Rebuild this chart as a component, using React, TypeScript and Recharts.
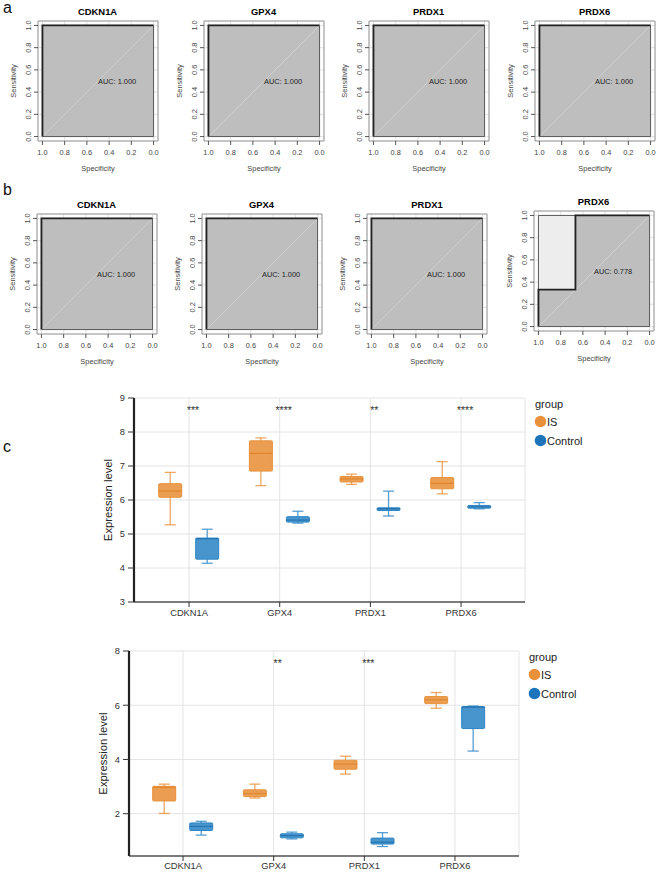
import React from 'react'
import {
  ComposedChart,
  Area,
  Line,
  Scatter,
  Bar,
  XAxis,
  YAxis,
  CartesianGrid,
  ReferenceArea,
  ReferenceDot,
} from 'recharts'

const FONT = '"Liberation Sans", Arial, Helvetica, sans-serif'

// ROC panels (a, b)
const rocGenes = ['CDKN1A', 'GPX4', 'PRDX1', 'PRDX6']
const aucRowA = [1, 1, 1, 1]
const aucRowB = [1, 1, 1, 0.778]
const perfectSpec = [1, 1, 0]
const perfectSens = [0, 1, 1]
const prdx6bSpec = [1, 1, 0.667, 0.667, 0]
const prdx6bSens = [0, 0.333, 0.333, 1, 1]
const rocTicks = [0, 0.2, 0.4, 0.6, 0.8, 1]

// box plots (c): [min, q1, median, q3, max]
const boxGenes = ['CDKN1A', 'GPX4', 'PRDX1', 'PRDX6']
const set1IS = [
  [5.27, 6.08, 6.26, 6.48, 6.81],
  [6.42, 6.85, 7.37, 7.74, 7.83],
  [6.46, 6.53, 6.62, 6.69, 6.76],
  [6.18, 6.33, 6.49, 6.66, 7.13],
]
const set1Control = [
  [4.14, 4.26, 4.86, 4.88, 5.14],
  [5.32, 5.35, 5.41, 5.51, 5.67],
  [5.53, 5.69, 5.74, 5.77, 6.26],
  [5.74, 5.76, 5.8, 5.84, 5.92],
]
const set1Stars = ['***', '****', '**', '****']
const set1Ticks = [3, 4, 5, 6, 7, 8, 9]

const set2IS = [
  [2.01, 2.47, 2.97, 3.01, 3.09],
  [2.58, 2.63, 2.74, 2.88, 3.09],
  [3.46, 3.64, 3.83, 3.97, 4.12],
  [5.89, 6.06, 6.2, 6.32, 6.47],
]
const set2Control = [
  [1.21, 1.38, 1.53, 1.66, 1.72],
  [1.07, 1.11, 1.19, 1.26, 1.32],
  [0.79, 0.88, 0.95, 1.1, 1.3],
  [4.31, 5.14, 5.93, 5.95, 5.97],
]
const set2Stars = ['', '**', '***', '']
const set2Ticks = [2, 4, 6, 8]

const IS_COLOR = '#E8913A'
const CTRL_COLOR = '#2E86C5'

type Pt = { s: number; e: number }
const toPts = (spec: number[], sens: number[]): Pt[] => spec.map((s, i) => ({ s, e: sens[i] }))

const maxPts = toPts([1, 0], [1, 1])
const edgePts = toPts([1, 0, 0, 1, 1], [0, 0, 1, 1, 0])
const diagPts = toPts([1, 0], [0, 1])

const curvesA = rocGenes.map(() => toPts(perfectSpec, perfectSens))
const curvesB = [
  toPts(perfectSpec, perfectSens),
  toPts(perfectSpec, perfectSens),
  toPts(perfectSpec, perfectSens),
  toPts(prdx6bSpec, prdx6bSens),
]

const RocTickY = (props: any) => {
  const { x, y, payload } = props
  return (
    <text
      x={x}
      y={y}
      transform={`rotate(-90 ${x} ${y})`}
      textAnchor="middle"
      fontSize={7.4}
      fill="#444"
      fontFamily={FONT}
    >
      {Number(payload.value).toFixed(1)}
    </text>
  )
}

function RocPanel({ gene, auc, curve, frameLeft, frameTop }: { gene: string; auc: number; curve: Pt[]; frameLeft: number; frameTop: number }) {
  const left = frameLeft - 36
  const top = frameTop - 21
  const small = { fontSize: 7.4, fill: '#444', fontFamily: FONT }
  return (
    <div style={{ position: 'absolute', left, top, width: 160, height: 175 }}>
      <div
        style={{
          position: 'absolute',
          left: 36,
          width: 120,
          top: 7.4,
          lineHeight: 1,
          textAlign: 'center',
          fontWeight: 'bold',
          fontSize: 9.4,
          fontFamily: FONT,
        }}
      >
        {gene}
      </div>
      <ComposedChart width={160} height={175} margin={{ top: 21, right: 4, bottom: 0, left: 0 }}>
        <CartesianGrid stroke="#DADADA" strokeWidth={0.8} />
        <XAxis
          type="number"
          dataKey="s"
          domain={[-0.04, 1.04]}
          allowDataOverflow
          reversed
          ticks={rocTicks}
          interval={0}
          tickFormatter={(v) => Number(v).toFixed(1)}
          axisLine={false}
          tickSize={4}
          tickMargin={5}
          height={34}
          stroke="#555"
          tick={small}
          label={{ value: 'Specificity', position: 'insideBottom', offset: 4, ...small }}
        />
        <YAxis
          type="number"
          dataKey="e"
          domain={[-0.04, 1.04]}
          allowDataOverflow
          ticks={rocTicks}
          interval={0}
          axisLine={false}
          width={36}
          tickSize={4}
          tickMargin={3}
          stroke="#555"
          tick={<RocTickY />}
          label={{ value: 'Sensitivity', angle: -90, position: 'center', dx: -7, ...small }}
        />
        <ReferenceArea x1={-0.04} x2={1.04} y1={-0.04} y2={1.04} fill="none" stroke="#9A9A9A" strokeWidth={1} />
        <Area data={maxPts} dataKey="e" type="linear" baseValue={0} fill="#EDEDED" fillOpacity={1} stroke="none" isAnimationActive={false} />
        <Area data={curve} dataKey="e" type="linear" baseValue={0} fill="#BEBEBE" fillOpacity={1} stroke="none" isAnimationActive={false} />
        <Line data={edgePts} dataKey="e" type="linear" stroke="#5A5A5A" strokeWidth={1} dot={false} isAnimationActive={false} />
        <Line data={diagPts} dataKey="e" type="linear" stroke="#CFCFCF" strokeWidth={1} dot={false} isAnimationActive={false} />
        <Line data={curve} dataKey="e" type="linear" stroke="#222" strokeWidth={1.8} dot={false} isAnimationActive={false} />
        <Scatter
          data={[{ s: 0.5, e: 0.5 }]}
          dataKey="e"
          isAnimationActive={false}
          shape={(p: any) => (
            <text x={p.cx} y={p.cy} dy={2.5} fontSize={7.4} fill="#222" fontFamily={FONT}>
              {`AUC: ${auc.toFixed(3)}`}
            </text>
          )}
        />
      </ComposedChart>
    </div>
  )
}

function BoxShape(props: any) {
  const { x, y, width, height, stats, color, dark } = props
  if (!stats) return null
  const [mn, q1, md, q3, mx] = stats
  const h = Math.abs(height)
  const top = height >= 0 ? y : y + height
  const py = (v: number) => top + (h * (mx - v)) / (mx - mn)
  const cx = x + width / 2
  const cap = width * 0.48
  const w = { stroke: color, strokeOpacity: 0.8, strokeWidth: 1.3 }
  return (
    <g>
      <line x1={cx} x2={cx} y1={py(mx)} y2={py(q3)} {...w} />
      <line x1={cx} x2={cx} y1={py(q1)} y2={py(mn)} {...w} />
      <line x1={cx - cap / 2} x2={cx + cap / 2} y1={py(mx)} y2={py(mx)} {...w} />
      <line x1={cx - cap / 2} x2={cx + cap / 2} y1={py(mn)} y2={py(mn)} {...w} />
      <rect
        x={x}
        y={py(q3)}
        width={width}
        height={Math.max(py(q1) - py(q3), 1.5)}
        rx={1}
        fill={color}
        fillOpacity={0.88}
        stroke={color}
        strokeWidth={1}
      />
      <line x1={x} x2={x + width} y1={py(md)} y2={py(md)} stroke={dark} strokeOpacity={0.8} strokeWidth={1.1} />
    </g>
  )
}

function GroupLegend({ x, y }: { x: number; y: number }) {
  return (
    <svg style={{ position: 'absolute', left: x - 6, top: y - 12 }} width={90} height={60}>
      <text x={6} y={16} fontSize={11} fill="#222" fontFamily={FONT}>group</text>
      <circle cx={11.5} cy={29.5} r={5.8} fill={IS_COLOR} />
      <text x={18} y={33.5} fontSize={11} fill="#222" fontFamily={FONT}>IS</text>
      <circle cx={11.5} cy={48.5} r={5.8} fill="#1C74BA" />
      <text x={18} y={52.5} fontSize={11} fill="#222" fontFamily={FONT}>Control</text>
    </svg>
  )
}

function BoxChart(props: {
  chartTop: number
  marginTop: number
  plotHeight: number
  xAxisHeight: number
  axisX: number
  plotWidth: number
  padL: number
  padR: number
  yDomain: [number, number]
  yTicks: number[]
  isStats: number[][]
  ctrlStats: number[][]
  stars: string[]
  starY: number
  tickMargin: number
}) {
  const p = props
  const rows = boxGenes.map((gene, i) => ({ gene, is: p.isStats[i], ctrl: p.ctrlStats[i] }))
  const height = p.marginTop + p.plotHeight + p.xAxisHeight
  const tickFont = { fontSize: 9.3, fill: '#333', fontFamily: FONT }
  return (
    <div style={{ position: 'absolute', left: 0, top: p.chartTop }}>
      <ComposedChart
        width={660}
        height={height}
        data={rows}
        barGap={14}
        margin={{ top: p.marginTop, right: 660 - p.axisX - p.plotWidth, bottom: 0, left: 0 }}
      >
        <CartesianGrid stroke="#E4E4E4" strokeWidth={1} />
        <XAxis
          dataKey="gene"
          type="category"
          interval={0}
          padding={{ left: p.padL, right: p.padR }}
          height={p.xAxisHeight}
          tickSize={5}
          tickMargin={p.tickMargin}
          tick={tickFont}
          tickLine={{ stroke: '#333' }}
          axisLine={{ stroke: '#555', strokeWidth: 1.5 }}
        />
        <XAxis
          xAxisId="top"
          orientation="top"
          dataKey="gene"
          height={0}
          tick={false}
          tickLine={false}
          axisLine={{ stroke: '#666' }}
        />
        <YAxis
          type="number"
          domain={p.yDomain}
          allowDataOverflow
          ticks={p.yTicks}
          interval={0}
          width={p.axisX}
          tickSize={6}
          tickMargin={3}
          tick={tickFont}
          tickLine={{ stroke: '#333' }}
          axisLine={{ stroke: '#222', strokeWidth: 2.2 }}
          label={{
            value: 'Expression level',
            angle: -90,
            position: 'center',
            dx: p.axisX / 2 - 26,
            fontSize: 11.3,
            fill: '#222',
            fontFamily: FONT,
          }}
        />
        <YAxis
          yAxisId="right"
          orientation="right"
          domain={p.yDomain}
          width={0}
          tick={false}
          tickLine={false}
          axisLine={{ stroke: '#666' }}
        />
        <Bar
          dataKey={(d: any) => [d.is[0], d.is[4]]}
          name="IS"
          fill={IS_COLOR}
          barSize={23}
          isAnimationActive={false}
          shape={(s: any) => <BoxShape {...s} stats={s.payload.is} color={IS_COLOR} dark="#D97F25" />}
        />
        <Bar
          dataKey={(d: any) => [d.ctrl[0], d.ctrl[4]]}
          name="Control"
          fill={CTRL_COLOR}
          barSize={23}
          isAnimationActive={false}
          shape={(s: any) => <BoxShape {...s} stats={s.payload.ctrl} color={CTRL_COLOR} dark="#1A68A8" />}
        />
        {boxGenes.map((g, i) =>
          p.stars[i] ? (
            <ReferenceDot
              key={g}
              x={g}
              y={p.starY}
              r={0}
              fill="none"
              stroke="none"
              label={{ value: p.stars[i], position: 'center', dx: 4, dy: 3, fontSize: 10.5, fill: '#333', fontFamily: FONT }}
            />
          ) : null
        )}
      </ComposedChart>
    </div>
  )
}

const letterStyle = (top: number): React.CSSProperties => ({
  position: 'absolute',
  left: 3,
  top,
  fontSize: 16,
  lineHeight: 1,
  fontFamily: FONT,
  color: '#111',
})

export default function App() {
  const rowALeft = [37.6, 203.6, 368.6, 534.6]
  const rowBLeft = [36.5, 201.5, 367, 533.5]
  const rowBTop = [213.8, 213.8, 213.8, 210.8]
  return (
    <div
      style={{
        position: 'absolute',
        left: 0,
        top: 0,
        width: 660,
        height: 872,
        background: '#fff',
        overflow: 'hidden',
        fontFamily: FONT,
      }}
    >
      <div style={letterStyle(-0.5)}>a</div>
      <div style={letterStyle(181.5)}>b</div>
      <div style={letterStyle(438.5)}>c</div>

      {rocGenes.map((g, i) => (
        <RocPanel key={'a' + g} gene={g} auc={aucRowA[i]} curve={curvesA[i]} frameLeft={rowALeft[i]} frameTop={20.5} />
      ))}
      {rocGenes.map((g, i) => (
        <RocPanel key={'b' + g} gene={g} auc={aucRowB[i]} curve={curvesB[i]} frameLeft={rowBLeft[i]} frameTop={rowBTop[i]} />
      ))}

      <BoxChart
        chartTop={380}
        marginTop={18}
        plotHeight={204}
        xAxisHeight={24}
        axisX={134}
        plotWidth={391}
        padL={9.7}
        padR={18.6}
        yDomain={[3, 9]}
        yTicks={set1Ticks}
        isStats={set1IS}
        ctrlStats={set1Control}
        stars={set1Stars}
        starY={8.74}
        tickMargin={2}
      />
      <GroupLegend x={535} y={404} />

      <BoxChart
        chartTop={635}
        marginTop={16}
        plotHeight={205}
        xAxisHeight={16}
        axisX={129}
        plotWidth={390}
        padL={8.7}
        padR={18.7}
        yDomain={[0.44, 8]}
        yTicks={set2Ticks}
        isStats={set2IS}
        ctrlStats={set2Control}
        stars={set2Stars}
        starY={7.64}
        tickMargin={1}
      />
      <GroupLegend x={529} y={657} />
    </div>
  )
}
